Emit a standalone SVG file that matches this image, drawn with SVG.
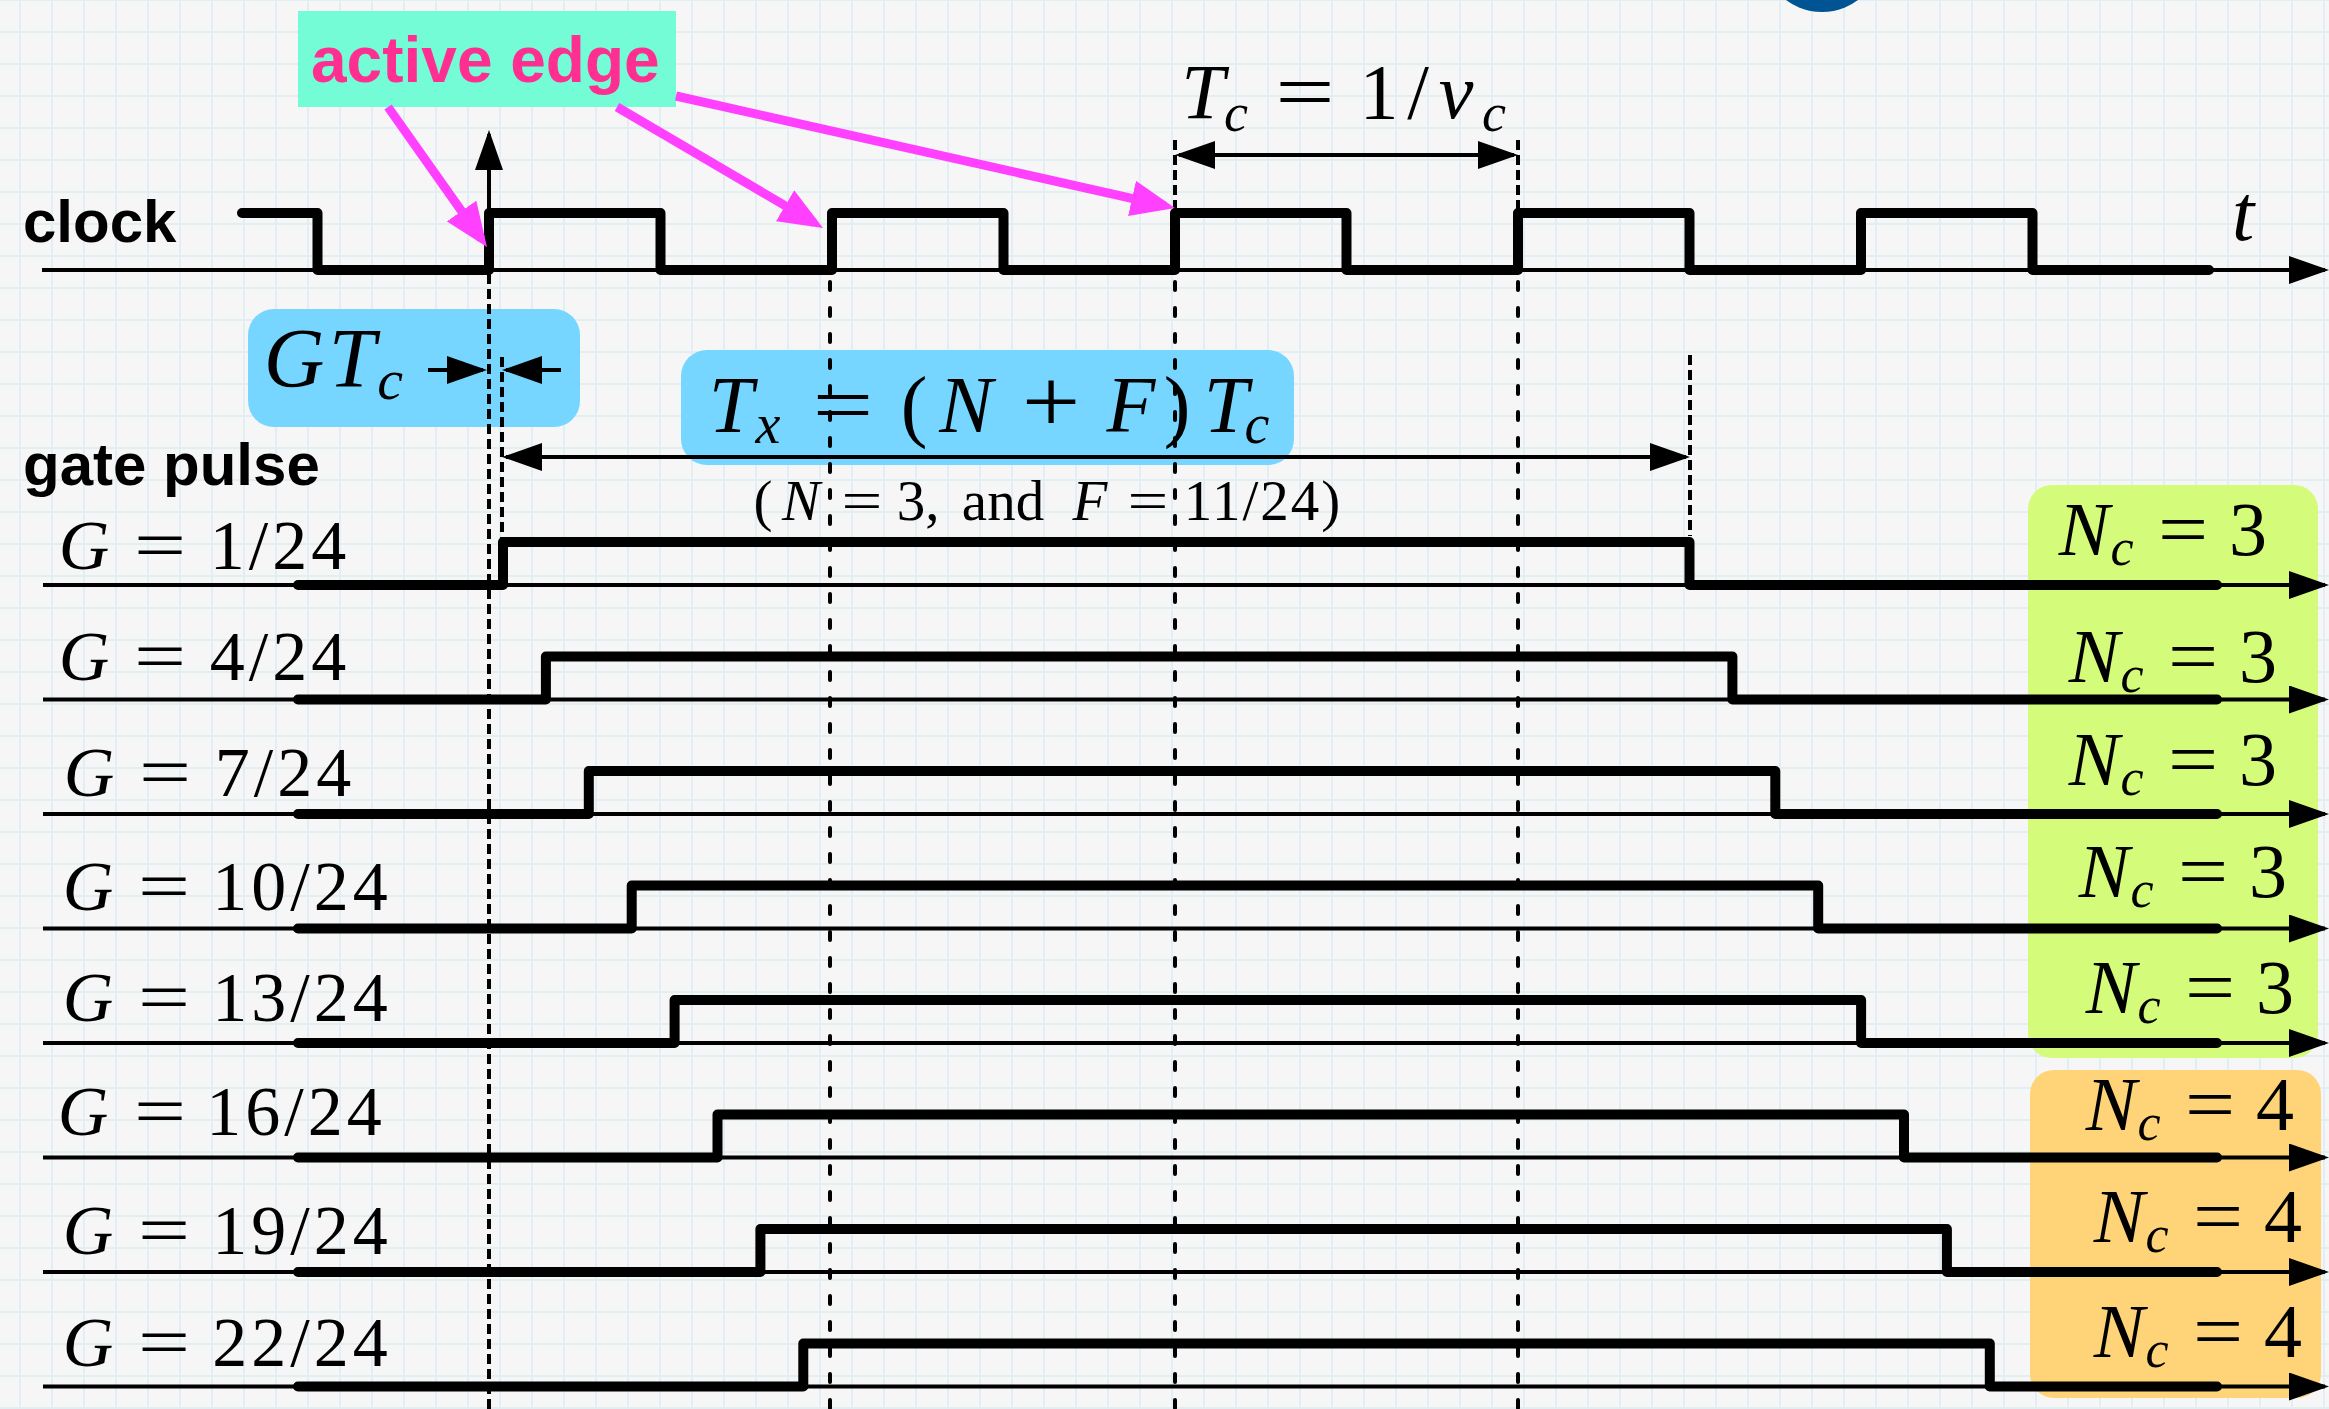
<svg xmlns="http://www.w3.org/2000/svg" width="2329" height="1409" viewBox="0 0 2329 1409">
<style>
.m{font-family:"Liberation Serif",serif;font-style:italic;fill:#000}
.r{font-family:"Liberation Serif",serif;font-style:normal;fill:#000}
.b{font-family:"Liberation Sans",Arial,sans-serif;font-weight:bold;fill:#000}
.thick{fill:none;stroke:#000;stroke-width:10;stroke-linejoin:round;stroke-linecap:round}
.axis{fill:none;stroke:#000;stroke-width:4}
.dash{fill:none;stroke:#000;stroke-width:4;stroke-dasharray:10 5}
.dot{fill:none;stroke:#000;stroke-width:4;stroke-dasharray:8 18;stroke-linecap:round}
.dim{fill:none;stroke:#000;stroke-width:4}
.mag{fill:none;stroke:#FF40FF;stroke-width:9}
</style>
<defs>
<pattern id="grid" x="19" y="31" width="32" height="32" patternUnits="userSpaceOnUse">
<path d="M1,0 V32 M0,1 H32" stroke="#E1EEF3" stroke-width="2" fill="none"/>
</pattern>
<marker id="ah" markerUnits="userSpaceOnUse" viewBox="0 0 40 28" markerWidth="40" markerHeight="28" refX="36" refY="14" orient="auto-start-reverse">
<path d="M0,0 L40,14 L0,28 z" fill="#000"/>
</marker>
<marker id="mh" markerUnits="userSpaceOnUse" viewBox="0 0 44 36" markerWidth="44" markerHeight="36" refX="34" refY="18" orient="auto">
<path d="M0,0 L44,18 L0,36 z" fill="#FF40FF"/>
</marker>
</defs>

<rect width="2329" height="1409" fill="#F6F6F6"/>
<rect width="2329" height="1409" fill="url(#grid)"/>
<circle id="logo-fragment" cx="1822" cy="-48" r="60" fill="#005493"/>

<g id="label-clock"><text class="b" x="23" y="242" font-size="60">clock</text></g>
<g id="label-gate-pulse"><text class="b" x="23" y="485" font-size="60">gate pulse</text></g>
<g id="label-t"><text class="m" x="2243" y="240" font-size="80" text-anchor="middle">t</text></g>

<g id="node-active-edge">
<rect x="298" y="11" width="378" height="96" fill="#73FCD6"/>
<text x="311" y="82" font-size="64" font-family="Liberation Sans, Arial, sans-serif" font-weight="bold" fill="#FF2F92">active edge</text>
</g>

<g id="node-Tc" text-anchor="middle">
<text font-size="78" class="r">
<tspan class="m" x="1203" y="118">T</tspan><tspan class="m" x="1236" y="131" font-size="54">c</tspan><tspan x="1379" y="118">1</tspan><tspan x="1418" y="118">/</tspan><tspan class="m" x="1456" y="118">ν</tspan><tspan class="m" x="1494" y="131" font-size="54">c</tspan>
</text>
<text class="r" font-size="78" transform="translate(1305,118) scale(1.35,1)">=</text>
</g>

<g id="node-GTc">
<rect x="248" y="309" width="332" height="118" rx="26" fill="#76D6FF"/>
<text font-size="84" text-anchor="middle" class="m">
<tspan x="294" y="387">G</tspan><tspan x="352" y="387">T</tspan><tspan x="390" y="399" font-size="58">c</tspan>
</text>
</g>

<g id="node-Tx" text-anchor="middle">
<rect x="681" y="350" width="613" height="115" rx="26" fill="#76D6FF"/>
<text font-size="80" class="r">
<tspan class="m" x="731" y="432">T</tspan><tspan class="m" x="768" y="443" font-size="56">x</tspan><tspan x="914" y="432">(</tspan><tspan class="m" x="966" y="432">N</tspan><tspan class="m" x="1131" y="432">F</tspan><tspan x="1177" y="432">)</tspan><tspan class="m" x="1226" y="432">T</tspan><tspan class="m" x="1257" y="443" font-size="56">c</tspan>
</text>
<text class="r" font-size="80" transform="translate(843,432) scale(1.35,1)">=</text>
<text class="r" font-size="80" transform="translate(1051,432) scale(1.3,1.15)">+</text>
<text font-size="57" class="r">
<tspan x="763" y="520">(</tspan><tspan class="m" x="801" y="520">N</tspan><tspan x="918" y="520">3,</tspan><tspan x="1003" y="520">and</tspan><tspan class="m" x="1090" y="520">F</tspan><tspan x="1263" y="520" letter-spacing="2">11/24)</tspan>
</text>
<text class="r" font-size="57" transform="translate(862,520) scale(1.27,1)">=</text>
<text class="r" font-size="57" transform="translate(1148,520) scale(1.27,1)">=</text>
</g>

<g id="node-G-labels" font-size="70" text-anchor="middle">
<text class="r"><tspan class="m" x="84" y="569">G</tspan><tspan x="280" y="569" letter-spacing="4">1/24</tspan></text>
<text class="r" transform="translate(160,569) scale(1.32,1)">=</text>
<text class="r"><tspan class="m" x="84" y="680">G</tspan><tspan x="280" y="680" letter-spacing="4">4/24</tspan></text>
<text class="r" transform="translate(160,680) scale(1.32,1)">=</text>
<text class="r"><tspan class="m" x="89" y="796">G</tspan><tspan x="285" y="796" letter-spacing="4">7/24</tspan></text>
<text class="r" transform="translate(165,796) scale(1.32,1)">=</text>
<text class="r"><tspan class="m" x="88" y="910">G</tspan><tspan x="302" y="910" letter-spacing="4">10/24</tspan></text>
<text class="r" transform="translate(164,910) scale(1.32,1)">=</text>
<text class="r"><tspan class="m" x="88" y="1021">G</tspan><tspan x="302" y="1021" letter-spacing="4">13/24</tspan></text>
<text class="r" transform="translate(164,1021) scale(1.32,1)">=</text>
<text class="r"><tspan class="m" x="83" y="1135">G</tspan><tspan x="296" y="1135" letter-spacing="4">16/24</tspan></text>
<text class="r" transform="translate(160,1135) scale(1.32,1)">=</text>
<text class="r"><tspan class="m" x="88" y="1254">G</tspan><tspan x="302" y="1254" letter-spacing="4">19/24</tspan></text>
<text class="r" transform="translate(164,1254) scale(1.32,1)">=</text>
<text class="r"><tspan class="m" x="88" y="1366">G</tspan><tspan x="302" y="1366" letter-spacing="4">22/24</tspan></text>
<text class="r" transform="translate(164,1366) scale(1.32,1)">=</text>
</g>

<g id="node-Nc3">
<rect x="2028" y="485" width="290" height="573" rx="24" fill="#D4FB79"/>
<g font-size="76" text-anchor="middle">
<text class="r"><tspan class="m" x="2084" y="555">N</tspan><tspan class="m" x="2122" y="565" font-size="52">c</tspan><tspan x="2248" y="555">3</tspan></text>
<text class="r" transform="translate(2183,555) scale(1.17,1)">=</text>
<text class="r"><tspan class="m" x="2094" y="682">N</tspan><tspan class="m" x="2132" y="692" font-size="52">c</tspan><tspan x="2258" y="682">3</tspan></text>
<text class="r" transform="translate(2193,682) scale(1.17,1)">=</text>
<text class="r"><tspan class="m" x="2094" y="785">N</tspan><tspan class="m" x="2132" y="795" font-size="52">c</tspan><tspan x="2258" y="785">3</tspan></text>
<text class="r" transform="translate(2193,785) scale(1.17,1)">=</text>
<text class="r"><tspan class="m" x="2104" y="897">N</tspan><tspan class="m" x="2142" y="907" font-size="52">c</tspan><tspan x="2268" y="897">3</tspan></text>
<text class="r" transform="translate(2203,897) scale(1.17,1)">=</text>
<text class="r"><tspan class="m" x="2111" y="1013">N</tspan><tspan class="m" x="2149" y="1023" font-size="52">c</tspan><tspan x="2275" y="1013">3</tspan></text>
<text class="r" transform="translate(2210,1013) scale(1.17,1)">=</text>
</g>
</g>

<g id="node-Nc4">
<rect x="2030" y="1070" width="291" height="328" rx="24" fill="#FFD479"/>
<g font-size="76" text-anchor="middle">
<text class="r"><tspan class="m" x="2111" y="1130">N</tspan><tspan class="m" x="2149" y="1140" font-size="52">c</tspan><tspan x="2275" y="1130">4</tspan></text>
<text class="r" transform="translate(2210,1130) scale(1.17,1)">=</text>
<text class="r"><tspan class="m" x="2119" y="1242">N</tspan><tspan class="m" x="2157" y="1252" font-size="52">c</tspan><tspan x="2283" y="1242">4</tspan></text>
<text class="r" transform="translate(2218,1242) scale(1.17,1)">=</text>
<text class="r"><tspan class="m" x="2119" y="1357">N</tspan><tspan class="m" x="2157" y="1367" font-size="52">c</tspan><tspan x="2283" y="1357">4</tspan></text>
<text class="r" transform="translate(2218,1357) scale(1.17,1)">=</text>
</g>
</g>

<g id="guides">
<line class="dash" x1="489" y1="274" x2="489" y2="1409"/>
<line class="dash" x1="502" y1="357" x2="502" y2="543"/>
<line class="dash" x1="1690" y1="355" x2="1690" y2="536"/>
<line class="dash" x1="1175" y1="140" x2="1175" y2="270" stroke-dasharray="8 5"/>
<line class="dash" x1="1518" y1="140" x2="1518" y2="270" stroke-dasharray="8 5"/>
<line class="dot" x1="830" y1="282" x2="830" y2="1409"/>
<line class="dot" x1="1175" y1="282" x2="1175" y2="1409"/>
<line class="dot" x1="1518" y1="282" x2="1518" y2="1409"/>
</g>

<g id="waveforms">
<line class="axis" x1="42" y1="270" x2="2325" y2="270" marker-end="url(#ah)"/>
<path class="thick" d="M242,213 H317.5 V270 H489 V213 H660.5 V270 H832 V213 H1003.5 V270 H1175 V213 H1346.5 V270 H1518 V213 H1689.5 V270 H1861 V213 H2032.5 V270 H2209"/>
<line class="axis" x1="43" y1="585" x2="2325" y2="585" marker-end="url(#ah)"/>
<path class="thick" d="M298,585 H503 V542 H1689.5 V585 H2217"/>
<line class="axis" x1="43" y1="699.5" x2="2325" y2="699.5" marker-end="url(#ah)"/>
<path class="thick" d="M298,699.5 H545.9 V656.5 H1732.4 V699.5 H2217"/>
<line class="axis" x1="43" y1="814" x2="2325" y2="814" marker-end="url(#ah)"/>
<path class="thick" d="M298,814 H588.8 V771 H1775.3 V814 H2217"/>
<line class="axis" x1="43" y1="928.5" x2="2325" y2="928.5" marker-end="url(#ah)"/>
<path class="thick" d="M298,928.5 H631.7 V885.5 H1818.2 V928.5 H2217"/>
<line class="axis" x1="43" y1="1043" x2="2325" y2="1043" marker-end="url(#ah)"/>
<path class="thick" d="M298,1043 H674.6 V1000 H1861.1 V1043 H2217"/>
<line class="axis" x1="43" y1="1157.5" x2="2325" y2="1157.5" marker-end="url(#ah)"/>
<path class="thick" d="M298,1157.5 H717.5 V1114.5 H1904 V1157.5 H2217"/>
<line class="axis" x1="43" y1="1272" x2="2325" y2="1272" marker-end="url(#ah)"/>
<path class="thick" d="M298,1272 H760.4 V1229 H1946.9 V1272 H2217"/>
<line class="axis" x1="43" y1="1386.5" x2="2325" y2="1386.5" marker-end="url(#ah)"/>
<path class="thick" d="M298,1386.5 H803.3 V1343.5 H1989.8 V1386.5 H2217"/>
</g>

<g id="connectors">
<line class="dim" x1="489" y1="270" x2="489" y2="134" marker-end="url(#ah)"/>
<line class="dim" x1="1179" y1="155" x2="1514" y2="155" marker-start="url(#ah)" marker-end="url(#ah)"/>
<line class="dim" x1="506" y1="457" x2="1686" y2="457" marker-start="url(#ah)" marker-end="url(#ah)"/>
<line class="dim" x1="428" y1="370" x2="483" y2="370" marker-end="url(#ah)"/>
<line class="dim" x1="561" y1="370" x2="506" y2="370" marker-end="url(#ah)"/>
<line class="mag" x1="388" y1="107" x2="481.2" y2="238.8" marker-end="url(#mh)"/>
<line class="mag" x1="617" y1="107" x2="814.4" y2="222.9" marker-end="url(#mh)"/>
<line class="mag" x1="676" y1="96" x2="1165.2" y2="205.8" marker-end="url(#mh)"/>
</g>
</svg>
